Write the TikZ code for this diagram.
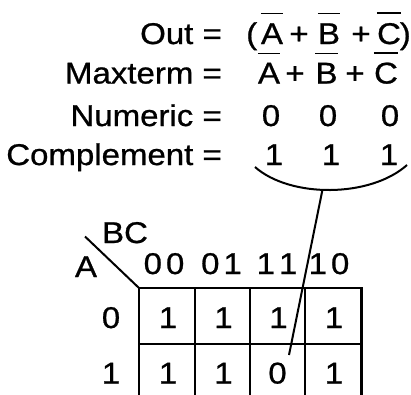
\documentclass[tikz,border=0pt]{standalone}
\usepackage{fontspec}
\setmainfont[FakeStretch=1.1,FakeBold=0.8]{Liberation Sans}
\begin{document}
\begin{tikzpicture}[x=1pt,y=-1pt,
  txt/.style={inner sep=0pt, font=\fontsize{30}{36}\selectfont},
  lbl/.style={txt, anchor=base east},
  gl/.style={txt, anchor=base},
  bar/.style={line width=1.3pt},
  gridln/.style={line width=2.8pt, line cap=rect},
  ln/.style={line width=2pt}]
\clip (0,0) rectangle (411,394);
\fill[white] (0,0) rectangle (411,394);
% left labels
\node[lbl] (lout) at (222,44) {Out =};
\node[lbl] (lmax) at (222,83.5) {Maxterm =};
\node[lbl] (lnum) at (222,126) {Numeric =};
\node[lbl] (lcom) at (222,165) {Complement =};
% Out row
\node[txt, anchor=base west] (po) at (246,44) {(};
\node[gl] (oa) at (272,44) {A};
\node[gl] (op1) at (299,44) {+};
\node[gl] (ob) at (329,44) {B};
\node[gl] (op2) at (361,44) {+};
\node[gl] (oc) at (389,44) {C};
\node[txt, anchor=base east] (pc) at (411,44) {)};
\foreach \n in {oa,ob,oc}
  \draw[bar] ([yshift=10pt]\n.north west) -- ([yshift=10pt]\n.north east);
% Maxterm row
\node[gl] (ma) at (269,83.5) {A};
\node[gl] (mp1) at (295,83.5) {+};
\node[gl] (mb) at (326.5,83.5) {B};
\node[gl] (mp2) at (355,83.5) {+};
\node[gl] (mc) at (386,83.5) {C};
\foreach \n in {ma,mb,mc}
  \draw[bar] ([yshift=9.5pt]\n.north west) -- ([yshift=9.5pt]\n.north east);
% Numeric row
\node[gl] (n1) at (271,126) {0};
\node[gl] (n2) at (328,126) {0};
\node[gl] (n3) at (390,126) {0};
% Complement row
\node[gl] (c1) at (274,165) {1};
\node[gl] (c2) at (331,165) {1};
\node[gl] (c3) at (389,165) {1};
% brace arc and pointer
\coordinate (arcL) at (255,167);
\coordinate (arcR) at (407,165);
\coordinate (arcB) at (322.4,190);
\coordinate (tip) at (289,355);
\draw[ln] (arcL) .. controls (290,198) and (370,198) .. (arcR);
\draw[ln] (arcB) -- (tip);
% K-map
\coordinate (g0) at (139,288);
\coordinate (dg) at (85,236.5);
\draw[ln] (dg) -- (g0);
\node[gl] (bc) at (125,243) {BC};
\node[gl] (la) at (86,277) {A};
\node[gl] (h00) at (164,274) {0\hspace{4pt}0};
\node[gl] (h01) at (221.5,274) {0\hspace{4pt}1};
\node[gl] (h11) at (277,274) {1\hspace{4pt}1};
\node[gl] (h10) at (329,274) {1\hspace{4pt}0};
\node[gl] (r0) at (111,328) {0};
\node[gl] (r1) at (111,383.5) {1};
\draw[gridln] (139,288) rectangle (361.7,400);
\draw[gridln] (139,344) -- (361.7,344);
\foreach \x in {195,250,305} \draw[gridln] (\x,288) -- (\x,400);
\node[gl] (c00) at (168,328) {1};
\node[gl] (c01) at (223.5,328) {1};
\node[gl] (c11) at (278.5,328) {1};
\node[gl] (c10) at (334,328) {1};
\node[gl] (d00) at (168,383.5) {1};
\node[gl] (d01) at (223.5,383.5) {1};
\node[gl] (d11) at (277.5,383.5) {0};
\node[gl] (d10) at (334,383.5) {1};
\end{tikzpicture}
\end{document}
